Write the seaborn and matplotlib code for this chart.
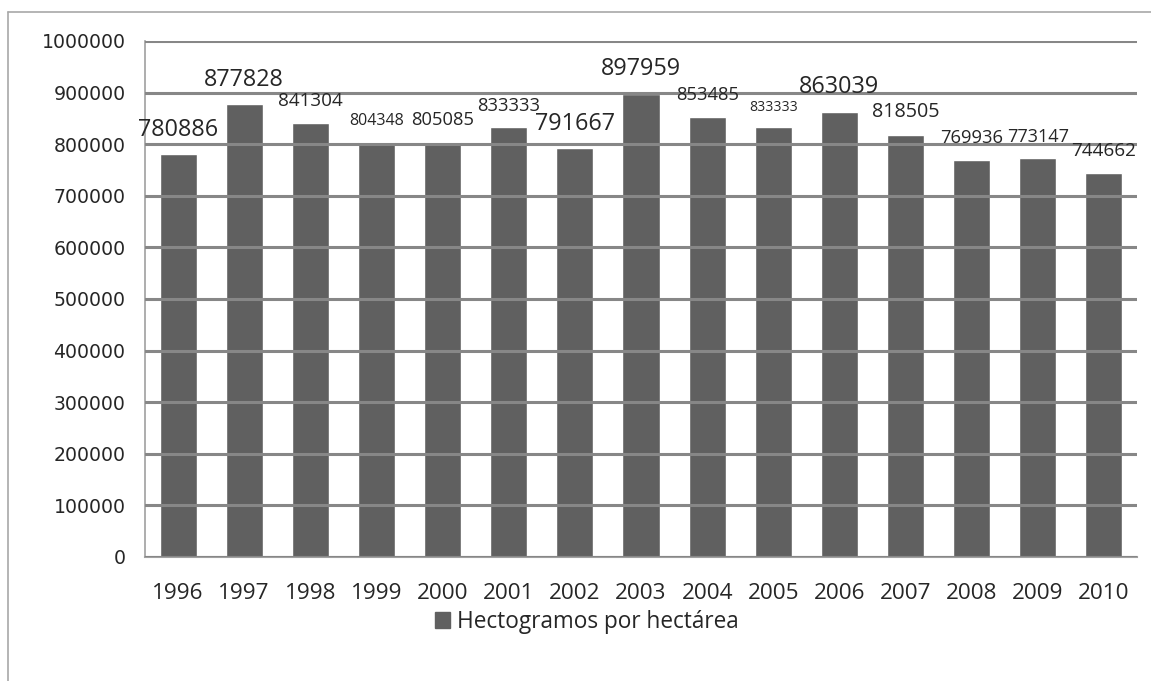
import numpy as np
import pandas as pd
import matplotlib.pyplot as plt
import matplotlib.lines as mlines
import matplotlib.patches as mpatches
import seaborn as sns


sns.set_style("white")
plt.rcParams['font.family'] = ['Open Sans', 'DejaVu Sans']

years = ['1996', '1997', '1998', '1999', '2000', '2001', '2002', '2003',
         '2004', '2005', '2006', '2007', '2008', '2009', '2010']
values = [780886, 877828, 841304, 804348, 805085, 833333, 791667, 897959,
          853485, 833333, 863039, 818505, 769936, 773147, 744662]
series_name = 'Hectogramos por hectárea'

# label font sizes vary in the original
label_sizes = [16.8, 16.8, 13.6, 11.5, 13.2, 13.2, 16.8, 16.8,
               13.2, 10.1, 16.8, 14.2, 13.2, 13.0, 13.6]

df = pd.DataFrame({'Year': years, 'Value': values})

bar_color = '#606060'
grid_color = '#878787'

fig = plt.figure(figsize=(11.51, 6.81), dpi=100)
ax = fig.add_axes([145 / 1151, 1 - 557 / 681, 992 / 1151, 516 / 681])

sns.barplot(data=df, x='Year', y='Value', color=bar_color, width=0.56,
            saturation=1, ax=ax)

ticks = np.arange(0, 1000001, 100000)
ax.set_ylim(0, 1000000)
ax.set_xlim(-0.5, len(years) - 0.5)
ax.set_yticks(ticks)
ax.set_yticklabels([f'{int(v)}' for v in ticks], family='DejaVu Sans', fontsize=13.6)
ax.tick_params(axis='y', length=0, pad=14)
ax.tick_params(axis='x', length=0, pad=19, labelsize=16.2)
ax.set_xlabel('')
ax.set_ylabel('')

ax.set_axisbelow(False)
ax.yaxis.grid(True, color=grid_color, linewidth=2.2)
ax.xaxis.grid(False)

for side in ['top', 'right']:
    ax.spines[side].set_visible(False)
ax.spines['left'].set_color('#a0a0a0')
ax.spines['left'].set_linewidth(1.2)
ax.spines['bottom'].set_color('#a0a0a0')
ax.spines['bottom'].set_linewidth(1.5)

labels = ax.bar_label(ax.containers[0], labels=[str(v) for v in values],
                      padding=9)
for txt, size in zip(labels, label_sizes):
    txt.set_fontsize(size)

handle = mpatches.Patch(color=bar_color, label=series_name)
fig.legend(handles=[handle], loc='center', bbox_to_anchor=(587 / 1151, 1 - 622 / 681),
           frameon=False, fontsize=16.3, handlelength=0.65, handleheight=0.65,
           handletextpad=0.3)

# outer chart border (top and left only visible)
fig.add_artist(mlines.Line2D([8 / 1151, 1], [1 - 12 / 681, 1 - 12 / 681],
                             color='#a8a8a8', linewidth=1.2))
fig.add_artist(mlines.Line2D([8 / 1151, 8 / 1151], [0, 1 - 12 / 681],
                             color='#a8a8a8', linewidth=1.2))

fig.savefig('out.png', dpi=100)
